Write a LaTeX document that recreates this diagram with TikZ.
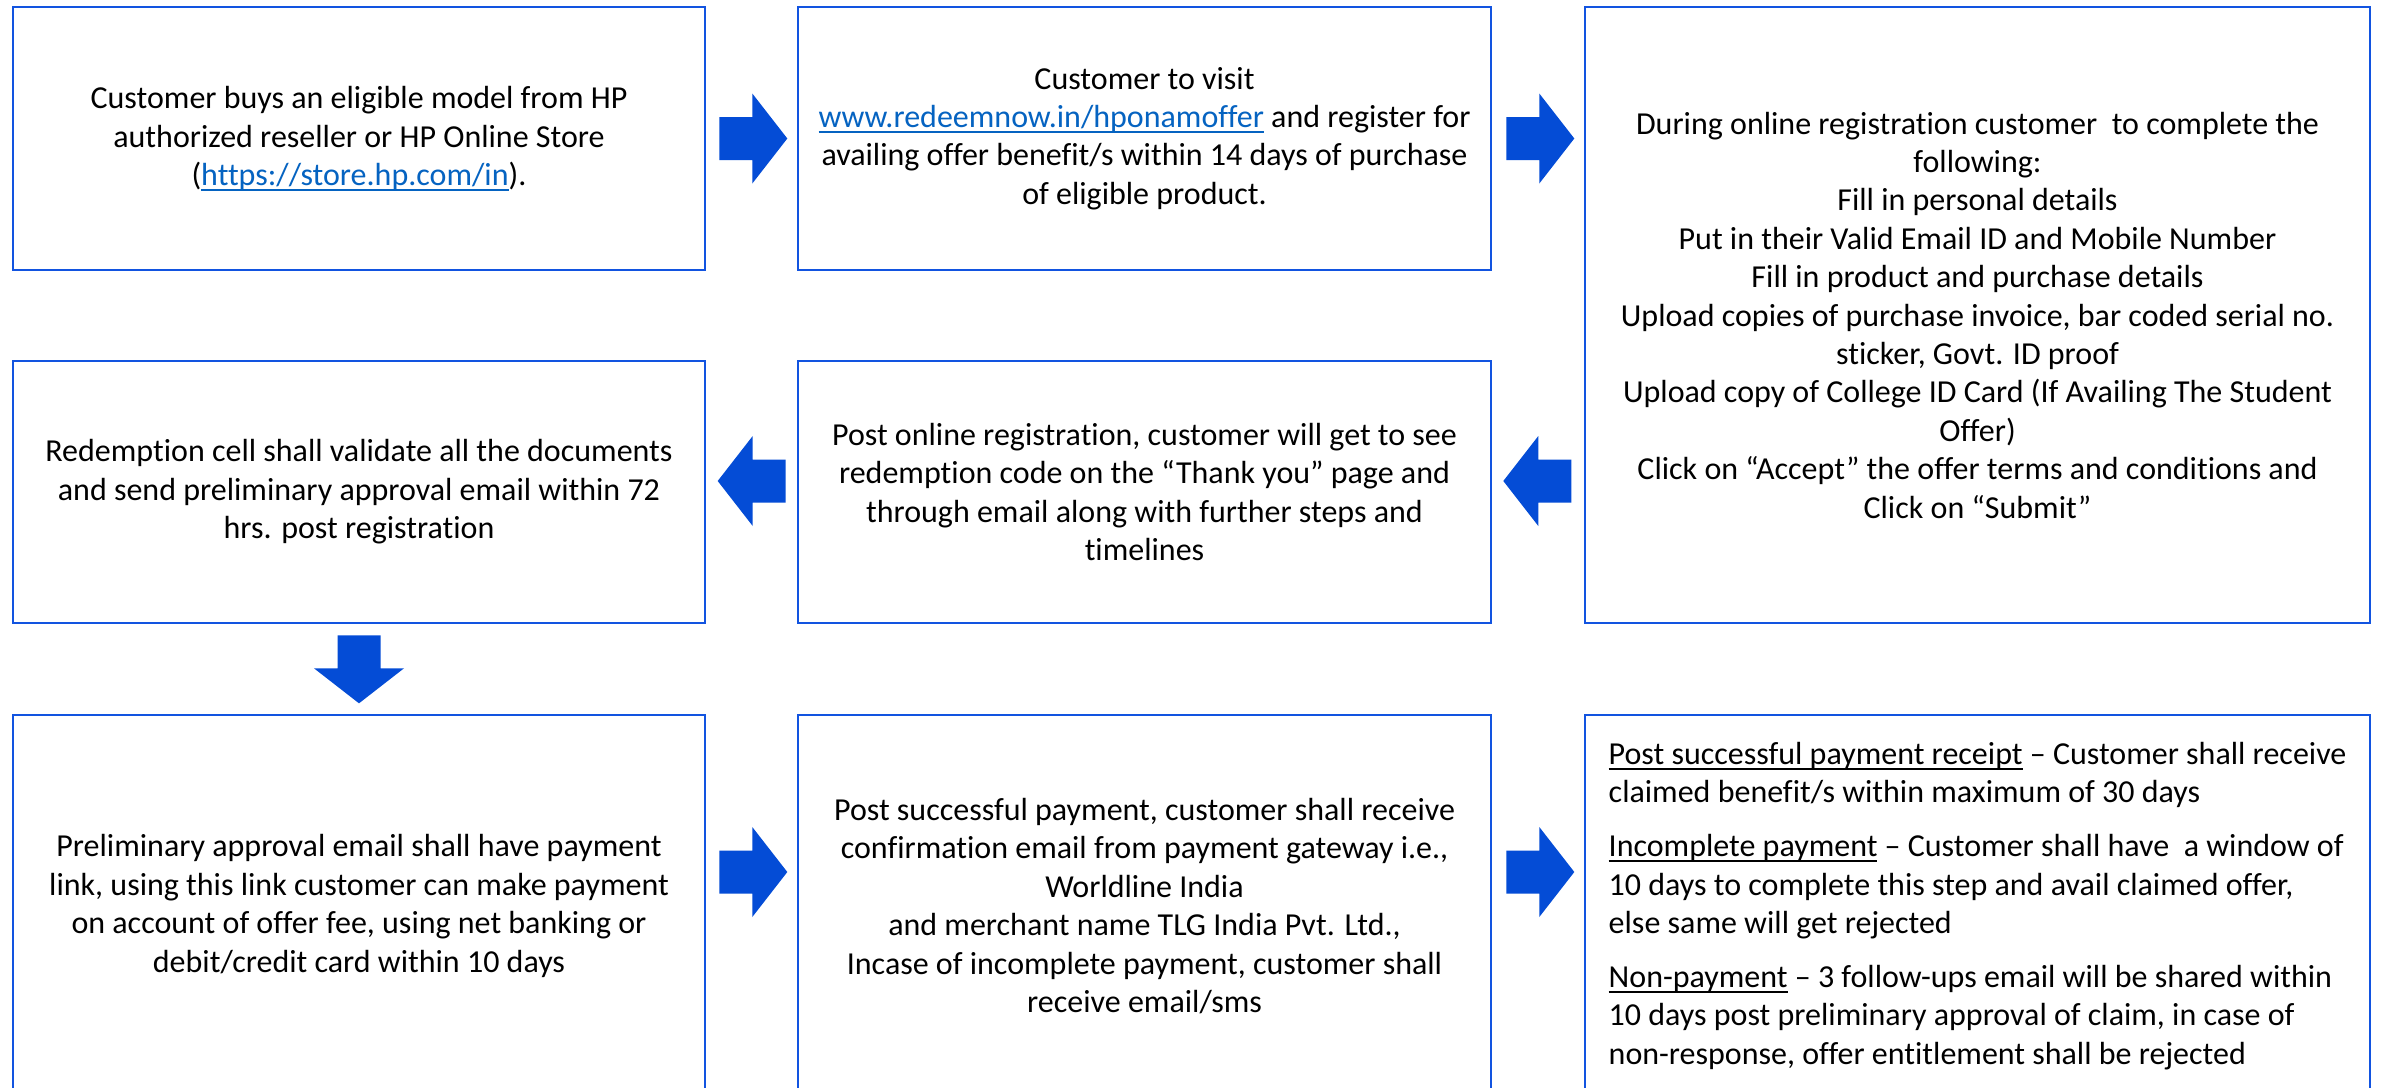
\documentclass[tikz,border=0pt]{standalone}
\usepackage{fontspec}
\setmainfont{Carlito}[Ligatures={NoCommon}]
\usetikzlibrary{calc}
\definecolor{boxblue}{RGB}{18,84,224}
\definecolor{arrowblue}{RGB}{4,76,214}
\definecolor{linkblue}{RGB}{5,99,193}
\newsavebox\myulbox
\newcommand\myul[1]{\mbox{\sbox\myulbox{#1}\rlap{\rule[-2.6pt]{\wd\myulbox}{0.8pt}}\usebox\myulbox}}
\newcommand\weblink[1]{\textcolor{linkblue}{\myul{#1}}}
\begin{document}
\begin{tikzpicture}[x=0.5pt,y=-0.5pt,
  stepbox/.style={draw=boxblue, line width=1.3pt, fill=white, inner sep=0pt,
    align=center, font=\fontsize{16}{19.2}\selectfont, anchor=center},
  colA/.style={minimum width=346pt},
  colB/.style={minimum width=346.5pt},
  colC/.style={minimum width=392.5pt},
  rarr/.pic={\fill[arrowblue] (0,-21.5) -- (33,-21.5) -- (33,-45) -- (68,0) -- (33,45) -- (33,21.5) -- (0,21.5) -- cycle;}
]
\useasboundingbox (0,0) rectangle (2382,1087);
\fill[white] (0,0) rectangle (2382,1087);
\clip (0,0) rectangle (2382,1087);

% row 1
\node[stepbox, colA, minimum height=131.5pt] (b1) at (359,138.5)
 {Customer buys an eligible model from HP\\
  authorized reseller or HP Online Store\\
  (\weblink{https://store.hp.com/in}).};
\node[stepbox, colB, minimum height=131.5pt] (b2) at (1144.5,138.5)
 {Customer to visit\\
  \weblink{www.redeemnow.in/hponamoffer} and register for\\
  availing offer benefit/s within 14 days of purchase\\
  of eligible product.};
\node[stepbox, colC, minimum height=308pt] (b3) at (1977.5,315)
 {During online registration customer\ \ to complete the\\
  following:\\
  Fill in personal details\\
  Put in their Valid Email ID and Mobile Number\\
  Fill in product and purchase details\\
  Upload copies of purchase invoice, bar coded serial no.\\
  sticker, Govt. ID proof\\
  Upload copy of College ID Card (If Availing The Student\\
  Offer)\\
  Click on “Accept” the offer terms and conditions and\\
  Click on “Submit”};

% row 2
\node[stepbox, colA, minimum height=131pt] (b4) at (359,492)
 {Redemption cell shall validate all the documents\\
  and send preliminary approval email within 72\\
  hrs. post registration};
\node[stepbox, colB, minimum height=131pt] (b5) at (1144.5,492)
 {Post online registration, customer will get to see\\
  redemption code on the “Thank you” page and\\
  through email along with further steps and\\
  timelines};

% row 3
\node[stepbox, colA, minimum height=191pt] (b7) at (359,906)
 {Preliminary approval email shall have payment\\
  link, using this link customer can make payment\\
  on account of offer fee, using net banking or\\
  debit/credit card within 10 days};
\node[stepbox, colB, minimum height=191pt] (b8) at (1144.5,906)
 {Post successful payment, customer shall receive\\
  confirmation email from payment gateway i.e.,\\
  Worldline India\\
  and merchant name TLG India Pvt. Ltd.,\\
  Incase of incomplete payment, customer shall\\
  receive email/sms};
\node[stepbox, colC, align=left, minimum height=191pt] (b9) at (1977.5,906)
 {\myul{Post successful payment receipt} – Customer shall receive\\
  claimed benefit/s within maximum of 30 days\\[7.8pt]
  \myul{Incomplete payment} – Customer shall have\ \ a window of\\
  10 days to complete this step and avail claimed offer,\\
  else same will get rejected\\[7.8pt]
  \myul{Non-payment} – 3 follow-ups email will be shared within\\
  10 days post preliminary approval of claim, in case of\\
  non-response, offer entitlement shall be rejected};

% block arrows
\pic at ($(b1.east)+(13,0)$) {rarr};
\pic at ($(b2.east)+(14,0)$) {rarr};
\pic[rotate=180] at ($(b5.west)+(-11,-11)$) {rarr};
\pic[rotate=180] at ($(b5.east)+(79,-11)$) {rarr};
\pic[rotate=-90] at ($(b4.south)+(0,11)$) {rarr};
\pic at ($(b7.east)+(13,-34)$) {rarr};
\pic at ($(b8.east)+(14,-34)$) {rarr};
\end{tikzpicture}
\end{document}
